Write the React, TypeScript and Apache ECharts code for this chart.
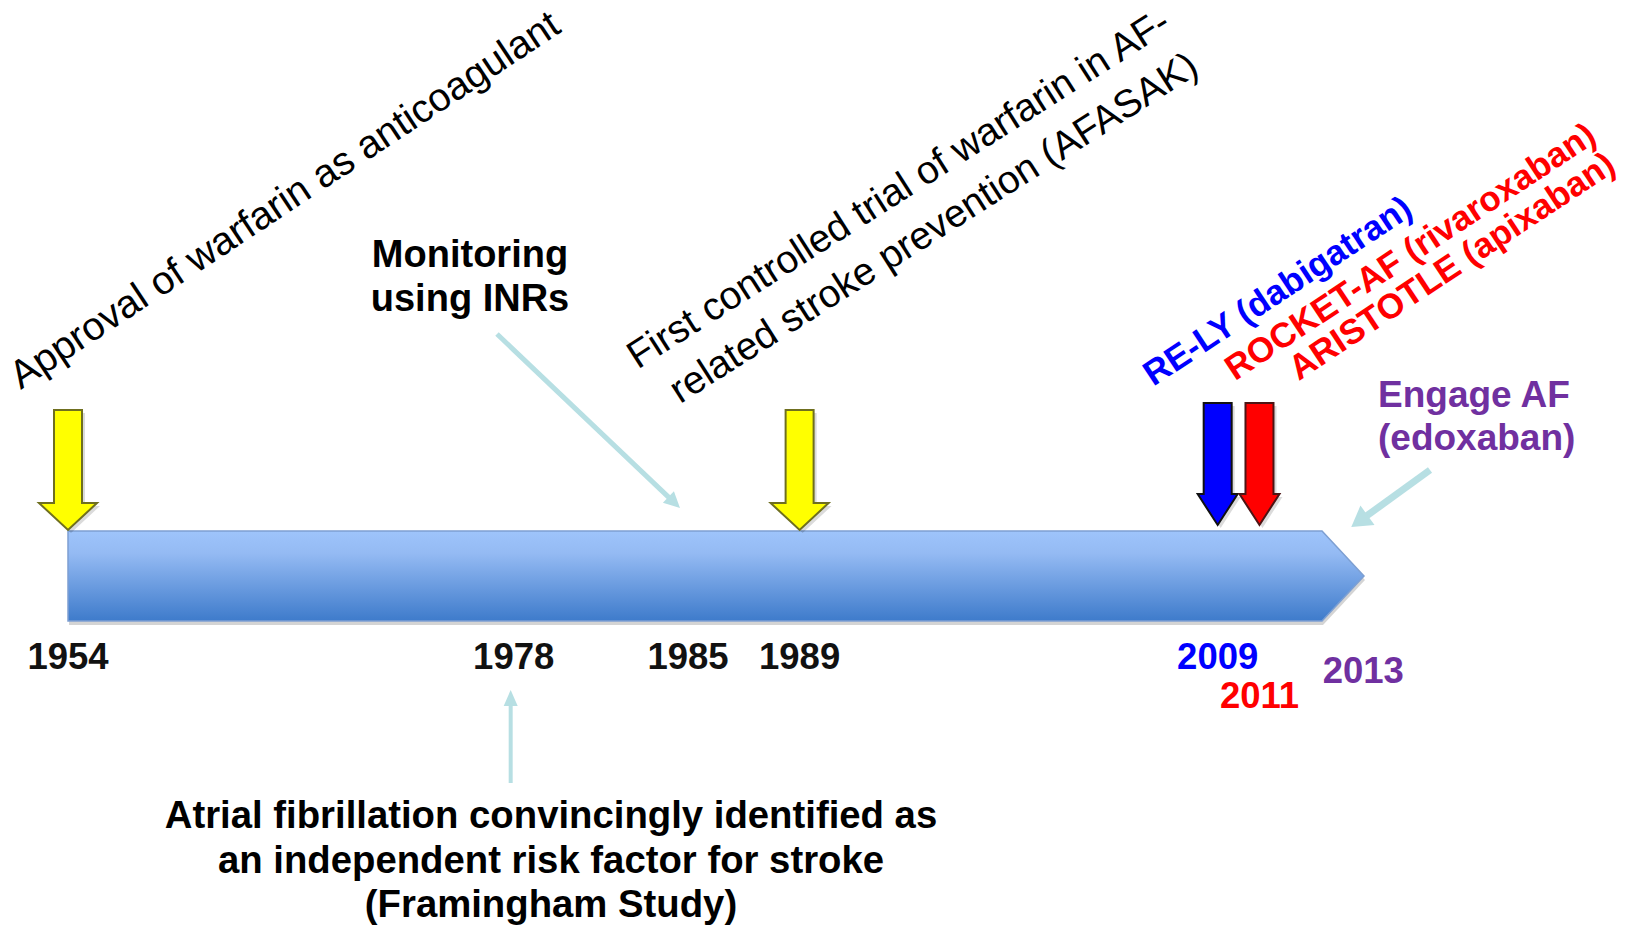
import React, { useEffect, useRef } from 'react';
import * as echarts from 'echarts';

// ---------- data ----------
const timelineRange = [1954, 2016];

const eventYears = [1954, 1989, 2009, 2011];
const eventFill = ['#ffff00', '#ffff00', '#0000ff', '#ff0000'];
const eventBorder = ['#6f6f1f', '#6f6f1f', '#111111', '#4d1414'];
const eventKind = ['tall', 'tall', 'pair', 'pair'];

const yearLabels = ['1954', '1978', '1985', '1989', '2009', '2011', '2013'];
const yearValues = [1954, 1978, 1985, 1989, 2009, 2011, 2013];
const yearColors = ['#111111', '#111111', '#111111', '#111111', '#0000ff', '#ff0000', '#7030a0'];

const pointerYears = [1985, 1978, 2013];

const captionApproval = 'Approval of warfarin as anticoagulant';
const captionMonitoring = 'Monitoring\nusing INRs';
const captionAfasak1 = 'First controlled trial of warfarin in AF-';
const captionAfasak2 = 'related stroke prevention (AFASAK)';
const captionRely = 'RE-LY (dabigatran)';
const captionRocket = 'ROCKET-AF (rivaroxaban)\nARISTOTLE (apixaban)';
const captionEngage = 'Engage AF\n(edoxaban)';
const captionFramingham =
  'Atrial fibrillation convincingly identified as\nan independent risk factor for stroke\n(Framingham Study)';

// ---------- layout / style ----------
const W = 1631;
const H = 926;
const FONT = '"Liberation Sans", Arial, Helvetica, sans-serif';
const ROT = (33.5 * Math.PI) / 180;
const ROT_AFASAK = (32.5 * Math.PI) / 180;
const GRID = { left: 68, right: 267, top: 531, bottom: 305 };
const BAR_HEAD = 42;
const ARROW_STYLE: any = {
  tall: { rise: 120, head: 27, shaftHalf: 14, headHalf: 29, gap: 1 },
  pair: { rise: 122, head: 31, shaftHalf: 14, headHalf: 20, gap: 6 },
};
const LABEL_ROW_Y = [656, 670, 695];
const LABEL_ROW: any = { 2011: 2, 2013: 1 };
const LABEL_DX: any = { 1978: -56, 1985: -28, 2013: 62 };
const POINTER_STYLE: any[] = [
  { tail: [497, 334], tipY: 508, dx: -36, width: 5, headLen: 16, headHalf: 8 },
  { tailY: 783, tipY: 690, dx: -59, width: 4, headLen: 16, headHalf: 7 },
  { tail: [1430, 470], tipY: 527, dx: 50, width: 7, headLen: 20, headHalf: 12 },
];
const POINTER_COLOR = '#b7dfe3';

function arrowPoints(cx: number, tipY: number, s: any) {
  const top = tipY - s.rise;
  const headTop = tipY - s.head;
  return [
    [cx - s.shaftHalf, top],
    [cx + s.shaftHalf, top],
    [cx + s.shaftHalf, headTop],
    [cx + s.headHalf, headTop],
    [cx, tipY],
    [cx - s.headHalf, headTop],
    [cx - s.shaftHalf, headTop],
  ];
}

function caption(text: string, x: number, y: number, extra: any, rotation = 0) {
  return {
    type: 'text',
    x,
    y,
    rotation,
    style: {
      text,
      fill: '#000000',
      fontFamily: FONT,
      align: 'center',
      verticalAlign: 'middle',
      ...extra,
    },
  };
}

export default function App() {
  const ref = useRef<HTMLDivElement>(null);

  useEffect(() => {
    if (!ref.current) return;
    const chart = echarts.init(ref.current, undefined, { renderer: 'svg' });

    const option: any = {
      animation: false,
      backgroundColor: '#ffffff',
      grid: { ...GRID },
      xAxis: { type: 'value', min: timelineRange[0], max: timelineRange[1], show: false },
      yAxis: { type: 'value', min: 0, max: 1, show: false },
      series: [
        {
          type: 'custom',
          name: 'timeline',
          clip: false,
          data: [[timelineRange[0], timelineRange[1]]],
          renderItem: (params: any, api: any) => {
            const start = api.coord([api.value(0), 1]);
            const end = api.coord([api.value(1), 0]);
            const x0 = start[0];
            const yT = start[1];
            const x1 = end[0];
            const yB = end[1];
            const yM = (yT + yB) / 2;
            const xs = x1 - BAR_HEAD;
            const pts = [
              [x0, yT],
              [xs, yT],
              [x1, yM],
              [xs, yB],
              [x0, yB],
            ];
            return {
              type: 'group',
              children: [
                {
                  type: 'polygon',
                  shape: { points: pts.map((p) => [p[0] + 1, p[1] + 4]) },
                  style: { fill: '#d4d4d4' },
                },
                {
                  type: 'polygon',
                  shape: { points: pts },
                  style: {
                    fill: new echarts.graphic.LinearGradient(0, 0, 0, 1, [
                      { offset: 0, color: '#9ec4fb' },
                      { offset: 0.25, color: '#94baf3' },
                      { offset: 1, color: '#3e7bcb' },
                    ]),
                    stroke: '#7d9fd2',
                    lineWidth: 1.5,
                  },
                },
              ],
            };
          },
        },
        {
          type: 'custom',
          name: 'events',
          clip: false,
          data: eventYears.map((y) => [y, 1]),
          renderItem: (params: any, api: any) => {
            const i = params.dataIndex;
            const c = api.coord([api.value(0), 1]);
            const s = ARROW_STYLE[eventKind[i]];
            const pts = arrowPoints(c[0], c[1] - s.gap, s);
            return {
              type: 'group',
              children: [
                {
                  type: 'polygon',
                  shape: { points: pts.map((p) => [p[0] + 3, p[1] + 3]) },
                  style: { fill: 'rgba(0,0,0,0.14)' },
                },
                {
                  type: 'polygon',
                  shape: { points: pts },
                  style: { fill: eventFill[i], stroke: eventBorder[i], lineWidth: 2 },
                },
              ],
            };
          },
        },
        {
          type: 'custom',
          name: 'years',
          clip: false,
          data: yearValues.map((y) => [y, 0]),
          renderItem: (params: any, api: any) => {
            const i = params.dataIndex;
            const yr = yearValues[i];
            const c = api.coord([api.value(0), 0]);
            const row = LABEL_ROW[yr] || 0;
            return {
              type: 'text',
              x: c[0] + (LABEL_DX[yr] || 0),
              y: LABEL_ROW_Y[row],
              style: {
                text: yearLabels[i],
                fill: yearColors[i],
                fontSize: 36.5,
                fontWeight: 'bold',
                fontFamily: FONT,
                align: 'center',
                verticalAlign: 'middle',
              },
            };
          },
        },
        {
          type: 'custom',
          name: 'pointers',
          clip: false,
          data: pointerYears.map((y) => [y, 1]),
          renderItem: (params: any, api: any) => {
            const i = params.dataIndex;
            const s = POINTER_STYLE[i];
            const c = api.coord([api.value(0), 1]);
            const tip = [c[0] + s.dx, s.tipY];
            const tail = s.tail ? s.tail : [tip[0], s.tailY];
            const dx = tip[0] - tail[0];
            const dy = tip[1] - tail[1];
            const len = Math.sqrt(dx * dx + dy * dy);
            const ux = dx / len;
            const uy = dy / len;
            const bx = tip[0] - ux * s.headLen;
            const by = tip[1] - uy * s.headLen;
            const px = -uy;
            const py = ux;
            return {
              type: 'group',
              children: [
                {
                  type: 'line',
                  shape: { x1: tail[0], y1: tail[1], x2: bx + ux * 2, y2: by + uy * 2 },
                  style: { stroke: POINTER_COLOR, lineWidth: s.width, lineCap: 'butt' },
                },
                {
                  type: 'polygon',
                  shape: {
                    points: [
                      [tip[0], tip[1]],
                      [bx + px * s.headHalf, by + py * s.headHalf],
                      [bx - px * s.headHalf, by - py * s.headHalf],
                    ],
                  },
                  style: { fill: POINTER_COLOR },
                },
              ],
            };
          },
        },
      ],
      graphic: [
        caption(captionApproval, 284, 199, { fontSize: 39.5 }, ROT),
        caption(captionAfasak1, 898, 188, { fontSize: 39 }, ROT_AFASAK),
        caption(captionAfasak2, 933, 227, { fontSize: 39 }, ROT_AFASAK),
        caption(captionMonitoring, 470, 276, { fontSize: 38, fontWeight: 'bold', lineHeight: 44 }),
        caption(captionRely, 1277, 290, { fontSize: 35, fontWeight: 'bold', fill: '#0000ff' }, ROT),
        caption(
          captionRocket,
          1601,
          145,
          { fontSize: 35, fontWeight: 'bold', lineHeight: 35, fill: '#ff0000', align: 'right' },
          ROT
        ),
        caption(captionEngage, 1378, 416, {
          fontSize: 37,
          fontWeight: 'bold',
          lineHeight: 43,
          fill: '#7030a0',
          align: 'left',
        }),
        caption(captionFramingham, 551, 859, { fontSize: 38.3, fontWeight: 'bold', lineHeight: 44.5 }),
      ],
    };

    chart.setOption(option);
    return () => {
      chart.dispose();
    };
  }, []);

  return (
    <div
      ref={ref}
      style={{ position: 'absolute', left: 0, top: 0, width: W, height: H, background: '#ffffff' }}
    />
  );
}
